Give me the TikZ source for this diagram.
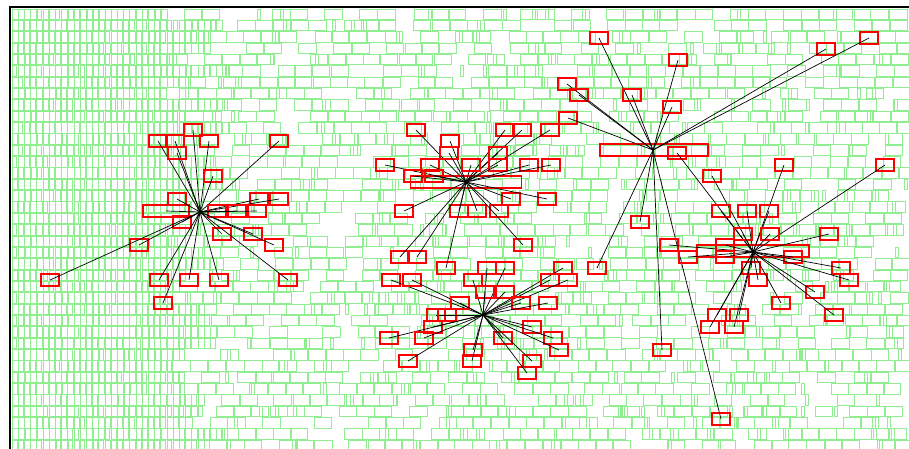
\documentclass[tikz,border=0pt]{standalone}
\usepackage{tikz}
\usepackage{xcolor}
\definecolor{lgreen}{RGB}{144,238,144}

\begin{document}
\begin{tikzpicture}[
        x=1pt, y=-1pt,
        gbox/.style={draw=lgreen, line width=1pt},
        rbox/.style={draw=red, line width=1.7pt, minimum width=17.5pt, minimum height=11.5pt, inner sep=0pt},
        wbox/.style={rbox, minimum width=#1},
        link/.style={black, line width=0.7pt}
      ]
        \useasboundingbox (0,0) rectangle (909,448);
        \pgfmathsetseed{3}
        % background field
        \foreach \r in {0,...,38}{
          \pgfmathsetmacro{\yy}{9+11.35*\r}
          \pgfmathsetmacro{\xe}{160+70*rnd}
          \foreach \k in {0,...,37}{
            \pgfmathsetmacro{\xa}{12+6.2*\k}
            \pgfmathtruncatemacro{\on}{\xa<\xe}
            \ifnum\on=1 \draw[gbox] (\xa,\yy) rectangle ++(4.5+2.5*rnd,10.5);\fi
          }
          \foreach \k in {0,...,42}{
            \pgfmathsetmacro{\xa}{\xe+17.6*\k+2*rnd}
            \pgfmathtruncatemacro{\on}{and(\xa<900, rnd<0.72)}
            \ifnum\on=1 \draw[gbox] (\xa,\yy) rectangle ++(17.5,10.5);\fi
            \pgfmathtruncatemacro{\tk}{and(\xa<900, rnd<0.22)}
            \ifnum\tk=1 \draw[gbox] (\xa+15*rnd,\yy) rectangle ++(3,10.5);\fi
          }
        }
        \draw[line width=1.2pt] (10,460) -- (10,7) -- (920,7);

        \coordinate (hubA) at (200,212);
        \coordinate (hubB) at (466,182);
        \coordinate (hubC) at (653,150);
        \coordinate (hubD) at (753,252);
        \coordinate (hubE) at (483,315);

        \node[wbox=46pt] (wA) at (166,211) {};
        \node[wbox=111pt] (wB) at (466,182) {};
        \node[wbox=108pt] (wC) at (654,150) {};
        \node[wbox=112pt] (wD) at (753,251) {};
        \draw[link] (hubA) -- (wA.center);

        \foreach \x/\y [count=\i] in {193/130,158/141,175/141,209/141,279/141,177/153,213/176,177/199,
            259/199,279/199,217/211,237/211,257/211,182/222,222/234,253/234,274/245,139/245,
            50/280,159/280,189/280,219/280,288/280,163/303}{
          \node[rbox] (a\i) at (\x,\y) {};
          \draw[link] (hubA) -- (a\i.center);
        }
        \foreach \x/\y [count=\i] in {416/130,450/141,505/130,522/130,550/130,449/153,498/153,385/165,
            430/165,471/165,498/165,529/165,551/165,413/176,434/176,511/199,547/199,404/211,
            459/211,477/211,499/211,523/245,400/257,417/257,446/268}{
          \node[rbox] (b\i) at (\x,\y) {};
          \draw[link] (hubB) -- (b\i.center);
        }
        \foreach \x/\y [count=\i] in {599/38,678/60,567/84,579/95,632/95,672/107,568/118,826/49,
            869/38,640/222,597/268,662/350,721/419}{
          \node[rbox] (c\i) at (\x,\y) {};
          \draw[link] (hubC) -- (c\i.center);
        }
        \foreach \x/\y [count=\i] in {677/153,712/176,784/165,885/165,721/211,747/211,769/211,743/234,
            770/234,829/234,669/245,725/245,688/257,725/257,793/257,751/268,841/268,849/280,
            758/280,815/292,781/303,834/315,717/315,739/315,710/327,734/327}{
          \node[rbox] (d\i) at (\x,\y) {};
          \draw[link] (hubD) -- (d\i.center);
        }
        \foreach \x/\y [count=\i] in {487/268,505/268,563/268,391/280,412/280,473/280,550/280,568/280,
            485/292,505/292,460/303,521/303,548/303,436/315,447/315,532/327,433/327,389/338,
            424/338,503/338,553/338,559/350,473/350,408/361,472/361,532/361,527/373}{
          \node[rbox] (e\i) at (\x,\y) {};
          \draw[link] (hubE) -- (e\i.center);
        }
      \end{tikzpicture}
\end{document}
